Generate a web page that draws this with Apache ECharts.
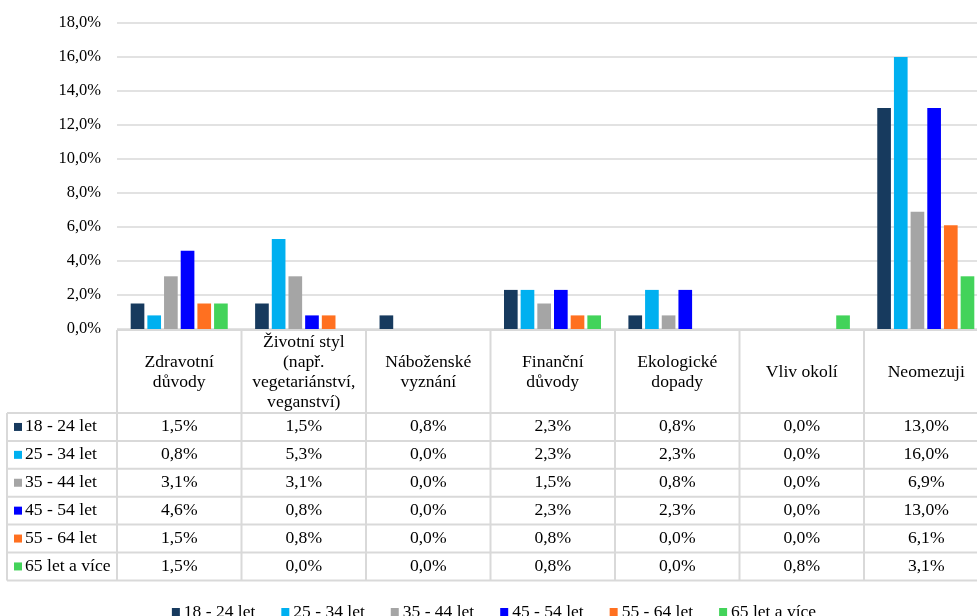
<!DOCTYPE html>
<html>
<head>
<meta charset="utf-8">
<script src="https://cdn.jsdelivr.net/npm/echarts/dist/echarts.min.js"></script>
<style>
  html, body { margin: 0; padding: 0; overflow: hidden; background: #fff; }
  #chart { width: 988px; height: 616px; }
</style>
</head>
<body>
<div id="chart"></div>
<script>
// kategorie (hlavicka tabulky)
const categories = [
  'Zdravotní\ndůvody',
  'Životní styl\n(např.\nvegetariánství,\nveganství)',
  'Náboženské\nvyznání',
  'Finanční\ndůvody',
  'Ekologické\ndopady',
  'Vliv okolí',
  'Neomezuji'
]
const seriesNames = ['18 - 24 let', '25 - 34 let', '35 - 44 let', '45 - 54 let', '55 - 64 let', '65 let a více']
const colors = ['#173A5E', '#00B0F0', '#A5A5A5', '#0000FF', '#FF7020', '#43D35A']

// hodnoty v %
const age18_24 = [1.5, 1.5, 0.8, 2.3, 0.8, 0.0, 13.0]
const age25_34 = [0.8, 5.3, 0.0, 2.3, 2.3, 0.0, 16.0]
const age35_44 = [3.1, 3.1, 0.0, 1.5, 0.8, 0.0, 6.9]
const age45_54 = [4.6, 0.8, 0.0, 2.3, 2.3, 0.0, 13.0]
const age55_64 = [1.5, 0.8, 0.0, 0.8, 0.0, 0.0, 6.1]
const age65plus = [1.5, 0.0, 0.0, 0.8, 0.0, 0.8, 3.1]
const values = [age18_24, age25_34, age35_44, age45_54, age55_64, age65plus]

const FONT = 'Liberation Serif'
const fmt = v => v.toFixed(1).replace('.', ',') + '%'

// rozmery plochy grafu a tabulky
const gridLeft = 117
const gridTop = 23
const gridBottomY = 329
const colW = 124.5
const plotW = colW * categories.length
const headerBottom = 413
const rowH = 27.9
const tableLeft = 7
const lineColor = '#D9D9D9'
const tableFont = '16px "' + FONT + '"'
const stretch = 1.1 // text v tabulce je v originale sirsi

const graphics = []
const tableBottom = headerBottom + rowH * seriesNames.length

// vodorovne cary
graphics.push({ type: 'line', shape: { x1: gridLeft, y1: 330, x2: gridLeft + plotW, y2: 330 }, style: { stroke: lineColor, lineWidth: 2 } })
for (let r = 0; r <= seriesNames.length; r++) {
  const y = headerBottom + r * rowH
  graphics.push({ type: 'line', shape: { x1: tableLeft, y1: y, x2: gridLeft + plotW, y2: y }, style: { stroke: lineColor, lineWidth: 2 } })
}
// svisle cary
graphics.push({ type: 'line', shape: { x1: tableLeft, y1: headerBottom, x2: tableLeft, y2: tableBottom }, style: { stroke: lineColor, lineWidth: 2 } })
for (let c = 0; c <= categories.length; c++) {
  const x = gridLeft + c * colW
  graphics.push({ type: 'line', shape: { x1: x, y1: 330, x2: x, y2: tableBottom }, style: { stroke: lineColor, lineWidth: 2 } })
}
// hlavicka
categories.forEach((name, i) => {
  graphics.push({
    type: 'text',
    x: gridLeft + (i + 0.5) * colW,
    y: 373,
    scaleX: stretch,
    style: { text: name, font: tableFont, fill: '#000', align: 'center', verticalAlign: 'middle', lineHeight: 20 }
  })
})
// radky
seriesNames.forEach((name, r) => {
  const cy = headerBottom + (r + 0.5) * rowH
  graphics.push({ type: 'rect', shape: { x: 14, y: cy - 4, width: 8, height: 8 }, style: { fill: colors[r] } })
  graphics.push({
    type: 'text', x: 25, y: cy, scaleX: stretch,
    style: { text: name, font: tableFont, fill: '#000', align: 'left', verticalAlign: 'middle' }
  })
  values[r].forEach((v, i) => {
    graphics.push({
      type: 'text', x: gridLeft + (i + 0.5) * colW, y: cy, scaleX: stretch,
      style: { text: fmt(v), font: tableFont, fill: '#000', align: 'center', verticalAlign: 'middle' }
    })
  })
})

const chart = echarts.init(document.getElementById('chart'))
chart.setOption({
  animation: false,
  color: colors,
  grid: { left: gridLeft, top: gridTop, width: plotW, height: gridBottomY - gridTop, containLabel: false },
  legend: {
    data: seriesNames,
    left: 'center',
    top: 598,
    itemWidth: 8,
    itemHeight: 8,
    itemGap: 26,
    icon: 'rect',
    textStyle: { fontFamily: FONT, fontSize: 17.5, color: '#000', padding: [0, 0, 0, -1] }
  },
  xAxis: {
    type: 'category',
    data: categories,
    axisLine: { show: false },
    axisTick: { show: false },
    axisLabel: { show: false }
  },
  yAxis: {
    type: 'value',
    min: 0,
    max: 18,
    interval: 2,
    axisLine: { show: false },
    axisTick: { show: false },
    axisLabel: { formatter: v => fmt(v), fontFamily: FONT, fontSize: 16.5, color: '#000', margin: 16 },
    splitLine: { lineStyle: { color: lineColor, width: 1.5 } }
  },
  series: seriesNames.map((name, j) => ({
    name,
    type: 'bar',
    data: values[j],
    barGap: '22%',
    barCategoryGap: '22%'
  })),
  graphic: graphics
})
</script>
</body>
</html>
